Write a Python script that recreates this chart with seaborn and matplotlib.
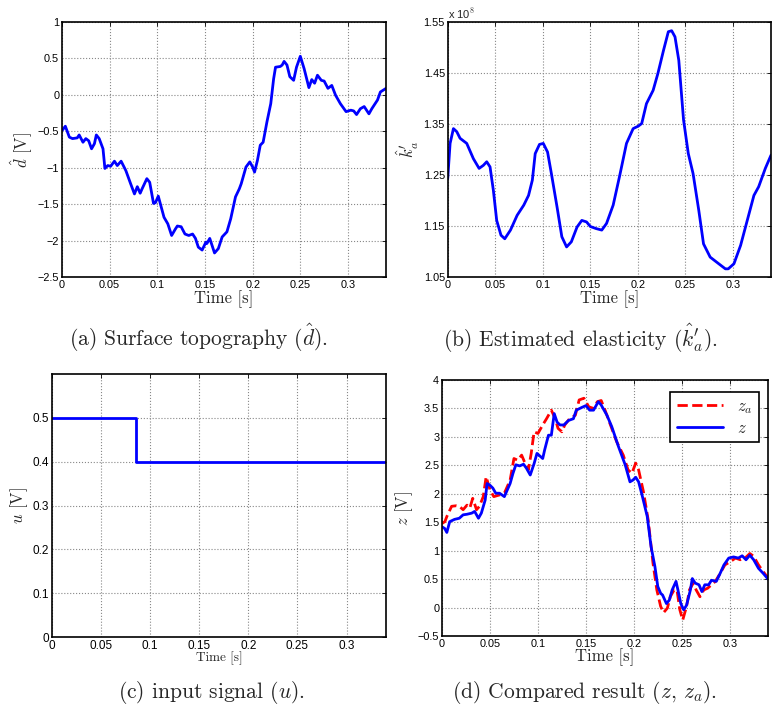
import numpy as np
import pandas as pd
import seaborn as sns
import matplotlib.pyplot as plt
from matplotlib.ticker import FuncFormatter

# (a) surface topography d-hat [V]
t_d = [0, 0.0035, 0.0077, 0.011, 0.016, 0.018, 0.022, 0.025, 0.028, 0.031, 0.034, 0.036, 0.039,
       0.043, 0.045, 0.048, 0.051, 0.055, 0.058, 0.062, 0.067, 0.072, 0.076, 0.079, 0.082, 0.084,
       0.089, 0.092, 0.096, 0.098, 0.101, 0.107, 0.111, 0.115, 0.119, 0.121, 0.125, 0.129, 0.133,
       0.137, 0.140, 0.143, 0.147, 0.151, 0.152, 0.155, 0.160, 0.164, 0.168, 0.173, 0.177, 0.182,
       0.186, 0.188, 0.193, 0.197, 0.200, 0.202, 0.205, 0.208, 0.211, 0.215, 0.219, 0.222, 0.224,
       0.229, 0.231, 0.233, 0.236, 0.239, 0.243, 0.246, 0.250, 0.254, 0.259, 0.262, 0.265, 0.268,
       0.272, 0.275, 0.279, 0.283, 0.287, 0.292, 0.298, 0.303, 0.306, 0.309, 0.313, 0.317, 0.322,
       0.325, 0.331, 0.334, 0.340]
d_hat = [-0.49, -0.43, -0.58, -0.60, -0.59, -0.55, -0.65, -0.60, -0.63, -0.74, -0.67, -0.55, -0.60,
         -0.74, -1.01, -0.97, -0.98, -0.91, -0.97, -0.91, -1.04, -1.22, -1.36, -1.26, -1.35, -1.29,
         -1.15, -1.20, -1.49, -1.48, -1.39, -1.68, -1.77, -1.93, -1.84, -1.80, -1.81, -1.91, -1.93,
         -1.91, -1.97, -2.09, -2.13, -2.02, -2.04, -1.97, -2.17, -2.11, -1.95, -1.88, -1.70, -1.40,
         -1.29, -1.22, -0.99, -0.92, -0.99, -1.06, -0.90, -0.69, -0.65, -0.37, -0.12, 0.22, 0.38,
         0.39, 0.41, 0.46, 0.41, 0.25, 0.20, 0.38, 0.53, 0.36, 0.10, 0.21, 0.16, 0.27,
         0.20, 0.19, 0.09, 0.13, -0.005, -0.12, -0.23, -0.21, -0.22, -0.27, -0.19, -0.16, -0.26,
         -0.19, -0.07, 0.04, 0.09]

# (b) estimated elasticity k'_a [x 1e8]
t_k = [0, 0.0025, 0.006, 0.0095, 0.013, 0.020, 0.027, 0.033, 0.0375, 0.041, 0.0445, 0.048, 0.0515,
       0.056, 0.060, 0.066, 0.073, 0.080, 0.085, 0.089, 0.092, 0.0965, 0.1005, 0.105, 0.109, 0.115,
       0.120, 0.125, 0.130, 0.136, 0.141, 0.146, 0.150, 0.156, 0.162, 0.167, 0.174, 0.181, 0.188,
       0.195, 0.2005, 0.204, 0.209, 0.216, 0.221, 0.227, 0.232, 0.2355, 0.239, 0.243, 0.248, 0.253,
       0.258, 0.264, 0.269, 0.276, 0.285, 0.292, 0.295, 0.301, 0.308, 0.315, 0.322, 0.327, 0.334, 0.340]
k_hat = [1.243, 1.312, 1.341, 1.335, 1.322, 1.312, 1.282, 1.263, 1.269, 1.276, 1.266, 1.220, 1.161,
         1.132, 1.125, 1.142, 1.171, 1.191, 1.210, 1.240, 1.292, 1.310, 1.312, 1.295, 1.253, 1.187,
         1.129, 1.109, 1.119, 1.148, 1.161, 1.158, 1.149, 1.145, 1.142, 1.155, 1.191, 1.250, 1.312,
         1.341, 1.346, 1.351, 1.390, 1.416, 1.449, 1.495, 1.531, 1.533, 1.521, 1.475, 1.358, 1.292,
         1.253, 1.181, 1.115, 1.089, 1.076, 1.066, 1.066, 1.076, 1.112, 1.161, 1.210, 1.227, 1.263, 1.289]

# (c) input signal u [V]
t_u = [0, 0.0853, 0.0853, 0.34]
u_sig = [0.5, 0.5, 0.4, 0.4]

# (d) compared result z and z_a [V]
t_z = [0, 0.0028, 0.005, 0.008, 0.013, 0.018, 0.022, 0.026, 0.031, 0.034, 0.038, 0.041, 0.045,
       0.047, 0.050, 0.053, 0.056, 0.060, 0.065, 0.071, 0.074, 0.077, 0.081, 0.085, 0.088, 0.092,
       0.096, 0.099, 0.101, 0.105, 0.107, 0.111, 0.114, 0.117, 0.120, 0.123, 0.127, 0.132, 0.137,
       0.140, 0.146, 0.150, 0.154, 0.158, 0.163, 0.166, 0.172, 0.177, 0.184, 0.191, 0.196, 0.199,
       0.202, 0.205, 0.209, 0.214, 0.218, 0.222, 0.225, 0.228, 0.230, 0.234, 0.237, 0.240, 0.244,
       0.246, 0.249, 0.252, 0.255, 0.259, 0.261, 0.264, 0.268, 0.271, 0.274, 0.278, 0.281, 0.286,
       0.290, 0.294, 0.299, 0.304, 0.309, 0.313, 0.317, 0.321, 0.325, 0.330, 0.335, 0.340]
z = [1.42, 1.39, 1.32, 1.51, 1.55, 1.57, 1.63, 1.64, 1.66, 1.69, 1.57, 1.66, 1.89,
     2.18, 2.15, 2.10, 2.01, 2.01, 1.95, 2.18, 2.36, 2.51, 2.49, 2.52, 2.45, 2.33,
     2.53, 2.71, 2.68, 2.62, 2.77, 3.03, 3.03, 3.41, 3.26, 3.21, 3.21, 3.29, 3.32,
     3.47, 3.52, 3.55, 3.47, 3.47, 3.62, 3.56, 3.38, 3.18, 2.83, 2.51, 2.21, 2.24,
     2.29, 2.21, 1.95, 1.60, 1.07, 0.72, 0.37, 0.25, 0.22, 0.07, 0.13, 0.31, 0.46,
     0.31, 0.07, -0.04, 0.04, 0.31, 0.51, 0.43, 0.40, 0.28, 0.40, 0.40, 0.48, 0.46,
     0.60, 0.75, 0.87, 0.89, 0.87, 0.91, 0.84, 0.92, 0.84, 0.69, 0.60, 0.50]
t_za = [0, 0.003, 0.005, 0.010, 0.015, 0.018, 0.022, 0.026, 0.029, 0.032, 0.036, 0.039, 0.043,
        0.046, 0.050, 0.054, 0.060, 0.065, 0.071, 0.075, 0.079, 0.083, 0.086, 0.090, 0.093, 0.096,
        0.100, 0.105, 0.109, 0.114, 0.118, 0.121, 0.125, 0.128, 0.133, 0.139, 0.143, 0.148, 0.153,
        0.158, 0.162, 0.166, 0.170, 0.175, 0.182, 0.189, 0.194, 0.198, 0.202, 0.205, 0.210, 0.215,
        0.220, 0.224, 0.228, 0.231, 0.235, 0.238, 0.242, 0.245, 0.248, 0.251, 0.255, 0.258, 0.262,
        0.265, 0.269, 0.273, 0.277, 0.281, 0.285, 0.290, 0.295, 0.301, 0.306, 0.311, 0.316, 0.321,
        0.325, 0.330, 0.335, 0.340]
z_a = [1.48, 1.51, 1.60, 1.78, 1.79, 1.78, 1.72, 1.80, 1.75, 1.92, 1.72, 1.78, 1.95,
       2.30, 2.07, 1.95, 1.98, 2.01, 2.24, 2.62, 2.59, 2.68, 2.56, 2.42, 2.71, 3.09,
       3.06, 3.21, 3.32, 3.47, 3.32, 3.15, 3.09, 3.21, 3.32, 3.38, 3.65, 3.68, 3.53,
       3.50, 3.62, 3.64, 3.47, 3.24, 2.92, 2.68, 2.42, 2.36, 2.54, 2.42, 2.04, 1.54,
       0.78, 0.31, 0.02, -0.09, -0.01, 0.19, 0.31, 0.31, -0.04, -0.22, 0.02, 0.31, 0.43,
       0.31, 0.19, 0.31, 0.34, 0.40, 0.46, 0.60, 0.75, 0.81, 0.87, 0.84, 0.87, 0.95,
       0.90, 0.75, 0.63, 0.52]

x_ticks = [0, 0.05, 0.1, 0.15, 0.2, 0.25, 0.3]
captions = [r"(a) Surface topography ($\hat{d}$).",
            r"(b) Estimated elasticity ($\hat{k}^{\prime}_{a}$).",
            r"(c) input signal ($u$).",
            r"(d) Compared result ($z$, $z_a$)."]

sns.set_style("white")
plt.rcParams['font.family'] = ['Liberation Sans', 'DejaVu Sans']
plt.rcParams['mathtext.fontset'] = 'cm'

fmt = FuncFormatter(lambda v, p: ('%g' % round(v, 6)).replace('-', '\u2212'))

fig = plt.figure(figsize=(7.8, 7.11), dpi=100)
ax_a = fig.add_axes([0.0795, 0.6104, 0.4155, 0.3586])
ax_b = fig.add_axes([0.574, 0.6104, 0.4145, 0.3586])
ax_c = fig.add_axes([0.0667, 0.104, 0.428, 0.370])
ax_d = fig.add_axes([0.5667, 0.1055, 0.418, 0.360])

blue = (0, 0, 1)
red = (1, 0, 0)

sns.lineplot(x=t_d, y=d_hat, ax=ax_a, color=blue, lw=2, sort=False, estimator=None)
sns.lineplot(x=t_k, y=k_hat, ax=ax_b, color=blue, lw=2, sort=False, estimator=None)
sns.lineplot(x=t_u, y=u_sig, ax=ax_c, color=blue, lw=2, sort=False, estimator=None)
sns.lineplot(x=t_za, y=z_a, ax=ax_d, color=red, lw=2, ls='--', sort=False, estimator=None,
             label=r'$z_a$')
sns.lineplot(x=t_z, y=z, ax=ax_d, color=blue, lw=2, sort=False, estimator=None, label=r'$z$')

ax_a.set_ylim(-2.5, 1)
ax_a.set_yticks(np.arange(-2.5, 1.01, 0.5))
ax_b.set_ylim(1.05, 1.55)
ax_b.set_yticks([1.05, 1.15, 1.25, 1.35, 1.45, 1.55])
ax_b.yaxis.set_major_formatter(FuncFormatter(lambda v, p: '%.2f' % v))
ax_b.text(0, 1.004, r'x 10$^{8}$', transform=ax_b.transAxes, fontsize=8, va='bottom')
ax_c.set_ylim(0, 0.6)
ax_c.set_yticks([0, 0.1, 0.2, 0.3, 0.4, 0.5])
ax_d.set_ylim(-0.5, 4)
ax_d.set_yticks(np.arange(-0.5, 4.01, 0.5))

ylabels = [r'$\hat{d}$ [V]', r"$\hat{k}^{\prime}_{a}$", r'$u$ [V]', r'$z$ [V]']
for i, ax in enumerate([ax_a, ax_b, ax_c, ax_d]):
    ax.set_xlim(0, 0.34)
    ax.set_xticks(x_ticks)
    ax.xaxis.set_major_formatter(fmt)
    if ax is not ax_b:
        ax.yaxis.set_major_formatter(fmt)
    ax.grid(True, ls=':', color='#888888', lw=0.8)
    for s in ax.spines.values():
        s.set_color('black')
        s.set_linewidth(1.2)
    tsize = 8.5 if ax is ax_c else 7.8
    ax.tick_params(direction='in', length=3, width=0.6, top=True, right=True,
                   labelsize=tsize, pad=2, colors='black')
    lsize = 9.5 if ax is ax_c else 12
    ax.set_xlabel('Time [s]', family='cmr10', fontsize=lsize, labelpad=0)
    ax.set_ylabel(ylabels[i], family='cmr10', fontsize=12, labelpad=2)

leg = ax_d.legend(loc='upper right', bbox_to_anchor=(0.972, 0.953), borderaxespad=0,
                  fontsize=12, handlelength=2.8, fancybox=False, framealpha=1,
                  edgecolor='black', borderpad=0.4, labelspacing=0.3)
leg.get_frame().set_linewidth(1.2)

fig.text(198 / 780, 1 - 338 / 711, captions[0], ha='center', va='center', family='cmr10', fontsize=15.5)
fig.text(580 / 780, 1 - 338 / 711, captions[1], ha='center', va='center', family='cmr10', fontsize=15.5)
fig.text(211 / 780, 1 - 692 / 711, captions[2], ha='center', va='center', family='cmr10', fontsize=15.5)
fig.text(585 / 780, 1 - 692 / 711, captions[3], ha='center', va='center', family='cmr10', fontsize=15.5)

fig.savefig('out.png', dpi=100)
